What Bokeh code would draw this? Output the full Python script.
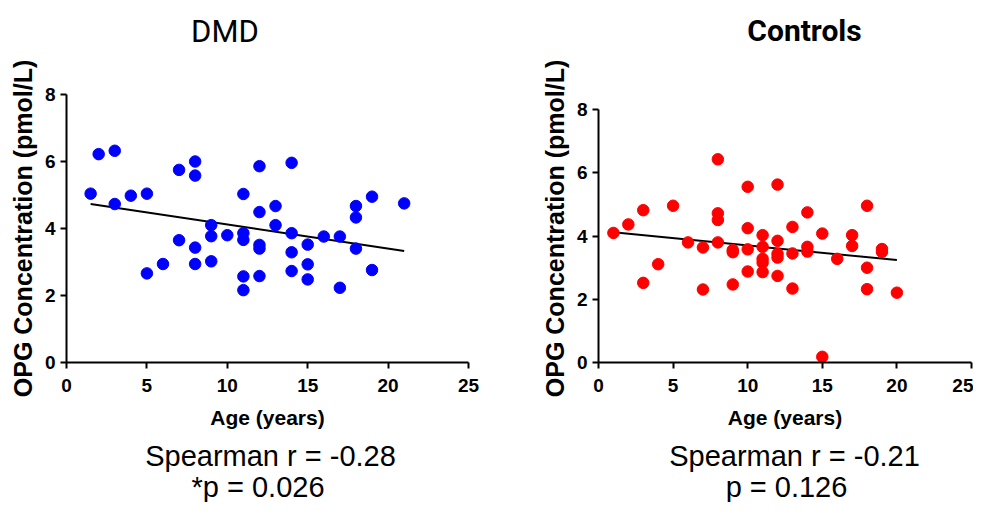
from bokeh.plotting import figure
from bokeh.layouts import row, column
from bokeh.models import Range1d, FixedTicker, Label
from bokeh.embed import file_html
from bokeh.resources import INLINE

# ---------------- data ----------------
x_ticks = [0, 5, 10, 15, 20, 25]
y_ticks = [0, 2, 4, 6, 8]

dmd_age = [1.5, 2, 3, 3, 4, 5, 5, 6, 7, 7, 8, 8, 8, 8, 9, 9, 9, 10, 11, 11, 11, 11, 11,
           12, 12, 12, 12, 12, 13, 13, 14, 14, 14, 14, 15, 15, 15, 16, 17, 17, 18, 18, 18,
           19, 19, 21]
dmd_opg = [5.04, 6.22, 6.32, 4.73, 4.98, 5.04, 2.66, 2.94, 5.75, 3.65, 6.00, 5.58, 3.43, 2.94,
           4.10, 3.77, 3.02, 3.80, 5.03, 3.86, 3.66, 2.57, 2.16, 5.86, 4.49, 3.51, 3.40, 2.58,
           4.67, 4.10, 5.96, 3.86, 3.29, 2.73, 3.52, 2.93, 2.48, 3.76, 3.76, 2.23, 4.67, 4.33,
           3.40, 4.95, 2.76, 4.75]
dmd_fit_x = [1.5, 21]
dmd_fit_y = [4.73, 3.33]

ctl_age = [1, 2, 3, 3, 4, 5, 6, 7, 7, 8, 8, 8, 8, 9, 9, 9, 10, 10, 10, 10, 11, 11, 11, 11, 11,
           12, 12, 12, 12, 12, 13, 13, 13, 14, 14, 14, 15, 15, 16, 17, 17, 18, 18, 18, 19, 19, 20]
ctl_opg = [4.10, 4.37, 4.82, 2.52, 3.11, 4.96, 3.80, 3.64, 2.31, 6.43, 4.72, 4.51, 3.80, 3.56,
           3.49, 2.47, 5.56, 4.25, 3.58, 2.88, 4.03, 3.66, 3.28, 3.16, 2.86, 5.63, 3.85, 3.44,
           3.32, 2.74, 4.29, 3.45, 2.34, 4.75, 3.66, 3.51, 4.08, 0.18, 3.28, 4.03, 3.69, 4.96,
           3.00, 2.32, 3.59, 3.50, 2.21]
ctl_fit_x = [1, 20]
ctl_fit_y = [4.12, 3.24]

titles = ["DMD", "Controls"]
stats_r = ["Spearman r = -0.28", "Spearman r = -0.21"]
stats_p = ["*p = 0.026", "p = 0.126"]

AR = "Liberation Sans"
TOTAL_W = 973
HEAD_H = 52
ROW_H = 388
FOOT_H = 62


def text_strip(height):
    s = figure(width=TOTAL_W, height=height, x_range=Range1d(0, TOTAL_W),
               y_range=Range1d(height, 0), output_backend="svg", toolbar_location=None,
               min_border=0, x_axis_location=None, y_axis_location=None)
    s.outline_line_color = None
    s.xgrid.grid_line_color = None
    s.ygrid.grid_line_color = None
    return s


def panel(width, border_left, border_right, y_top, ages, opg, fx, fy, color):
    p = figure(width=width, height=ROW_H, x_range=Range1d(0, 25), y_range=Range1d(0, y_top),
               output_backend="svg", toolbar_location=None,
               min_border_left=border_left, min_border_right=border_right,
               min_border_top=42, min_border_bottom=78)
    p.outline_line_color = None
    p.xgrid.grid_line_color = None
    p.ygrid.grid_line_color = None

    p.xaxis.ticker = FixedTicker(ticks=x_ticks)
    p.yaxis.ticker = FixedTicker(ticks=y_ticks)
    p.yaxis.bounds = (0, 8)
    p.xaxis.axis_label = "Age (years)"
    p.yaxis.axis_label = "OPG Concentration (pmol/L)"
    for ax in (p.xaxis[0], p.yaxis[0]):
        ax.axis_line_width = 2
        ax.axis_line_color = "black"
        ax.major_tick_line_width = 2
        ax.major_tick_line_color = "black"
        ax.major_tick_out = 6
        ax.major_tick_in = 0
        ax.minor_tick_line_color = None
        ax.major_label_text_font = AR
        ax.major_label_text_font_style = "bold"
        ax.major_label_text_font_size = "19px"
        ax.major_label_text_color = "black"
        ax.axis_label_text_font = AR
        ax.axis_label_text_font_style = "bold"
        ax.axis_label_text_color = "black"
    p.xaxis.major_label_standoff = 10
    p.yaxis.major_label_standoff = 5
    p.xaxis.axis_label_text_font_size = "21px"
    p.yaxis.axis_label_text_font_size = "25px"
    p.xaxis.axis_label_standoff = 11
    p.yaxis.axis_label_standoff = 5

    p.line(fx, fy, line_color="black", line_width=2)
    p.scatter(ages, opg, size=11.5, fill_color=color, line_color=color)
    return p


# header with panel titles (y = vertical middle of the text line)
head = text_strip(HEAD_H)
head.add_layout(Label(x=224.5, y=31, text=titles[0], text_font="Roboto",
                      text_font_size="31px", text_align="center",
                      text_baseline="middle", text_color="black"))
head.add_layout(Label(x=804, y=29.5, text=titles[1], text_font="Roboto",
                      text_font_style="bold", text_font_size="30px", text_align="center",
                      text_baseline="middle", text_color="black"))

# scatter panels (frame: left 66-468, right 598-971; y=0 at 362 on the page)
p1 = panel(530, 66, 62, 8, dmd_age, dmd_opg, dmd_fit_x, dmd_fit_y, "#0000FF")
p2 = panel(443, 68, 2, 268 / 31.6, ctl_age, ctl_opg, ctl_fit_x, ctl_fit_y, "#FF0000")

# footer with statistics
foot = text_strip(FOOT_H)
for xs, ys, txt in [(270, 15, stats_r[0]), (257.5, 46, stats_p[0]),
                    (794, 15, stats_r[1]), (786, 46, stats_p[1])]:
    foot.add_layout(Label(x=xs, y=ys, text=txt, text_font=AR, text_font_size="29px",
                          text_align="center", text_baseline="middle",
                          text_color="black"))

layout = column(head, row(p1, p2), foot)
open("out.html", "w").write(file_html(layout, INLINE))
